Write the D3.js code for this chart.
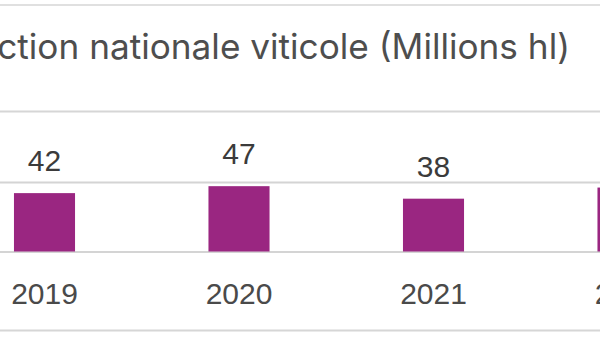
<!DOCTYPE html>
<html>
<head>
<meta charset="utf-8">
<script src="https://cdn.jsdelivr.net/npm/d3@7"></script>
<style>
  html, body { margin: 0; padding: 0; background: #ffffff; overflow: hidden; }
  svg { display: block; }
</style>
</head>
<body>
<svg id="chart" width="600" height="337"></svg>
<script>
// Production nationale viticole, millions d'hectolitres
const years = ["2019", "2020", "2021", "2022"];
const production = [42, 47, 38, 46];
const gridValues = [0, 50];
const title = "Production nationale viticole (Millions hl)";

const width = 600, height = 337;
const svg = d3.select("#chart");

const x = d3.scaleBand()
  .domain(years)
  .range([-52.75, 725.25])
  .paddingInner(0.686)
  .paddingOuter(0.343);

const y = d3.scaleLinear()
  .domain([0, 50])
  .range([251.5, 182]);

// frame lines around the title block and below the category labels
const frame = [5, 111.5, 330.5];
svg.append("g").selectAll("line")
  .data(frame)
  .join("line")
  .attr("x1", 0).attr("x2", width)
  .attr("y1", d => d).attr("y2", d => d)
  .attr("stroke", "#d6d6d6")
  .attr("stroke-width", (d, i) => i === 0 ? 1.5 : 2.2);

// title
svg.append("text")
  .attr("x", 570)
  .attr("y", 58.5)
  .attr("text-anchor", "end")
  .attr("font-family", "Inter, 'Open Sans', sans-serif")
  .attr("font-size", 35.2)
  .attr("fill", "#4e4e4e")
  .text(title);

// horizontal gridlines from the value axis
const grid = svg.append("g")
  .call(d3.axisLeft(y).tickValues(gridValues).tickSize(-width).tickFormat(""));
grid.select(".domain").remove();
grid.selectAll(".tick line")
  .attr("stroke", "#d4d4d4")
  .attr("stroke-width", 2.2)
  .attr("x1", 0).attr("x2", width);

const data = years.map((yr, i) => ({ year: yr, value: production[i] }));

// bars
svg.append("g").selectAll("rect")
  .data(data)
  .join("rect")
  .attr("x", d => x(d.year))
  .attr("width", x.bandwidth())
  .attr("y", d => y(d.value))
  .attr("height", d => y(0) - y(d.value))
  .attr("fill", "#9a2681");

// value labels
svg.append("g").selectAll("text")
  .data(data)
  .join("text")
  .attr("x", d => x(d.year) + x.bandwidth() / 2)
  .attr("y", d => y(d.value) - 22)
  .attr("text-anchor", "middle")
  .attr("font-family", "'Liberation Sans', Arial, sans-serif")
  .attr("font-size", 30)
  .attr("fill", "#3b3b3b")
  .text(d => d.value);

// category labels
const xAxis = svg.append("g")
  .attr("transform", "translate(0,304)")
  .call(d3.axisBottom(x).tickSize(0).tickPadding(0));
xAxis.select(".domain").remove();
xAxis.selectAll("text")
  .attr("dy", 0)
  .attr("font-family", "'Liberation Sans', Arial, sans-serif")
  .attr("font-size", 30)
  .attr("fill", "#4a4a4a");
</script>
</body>
</html>
